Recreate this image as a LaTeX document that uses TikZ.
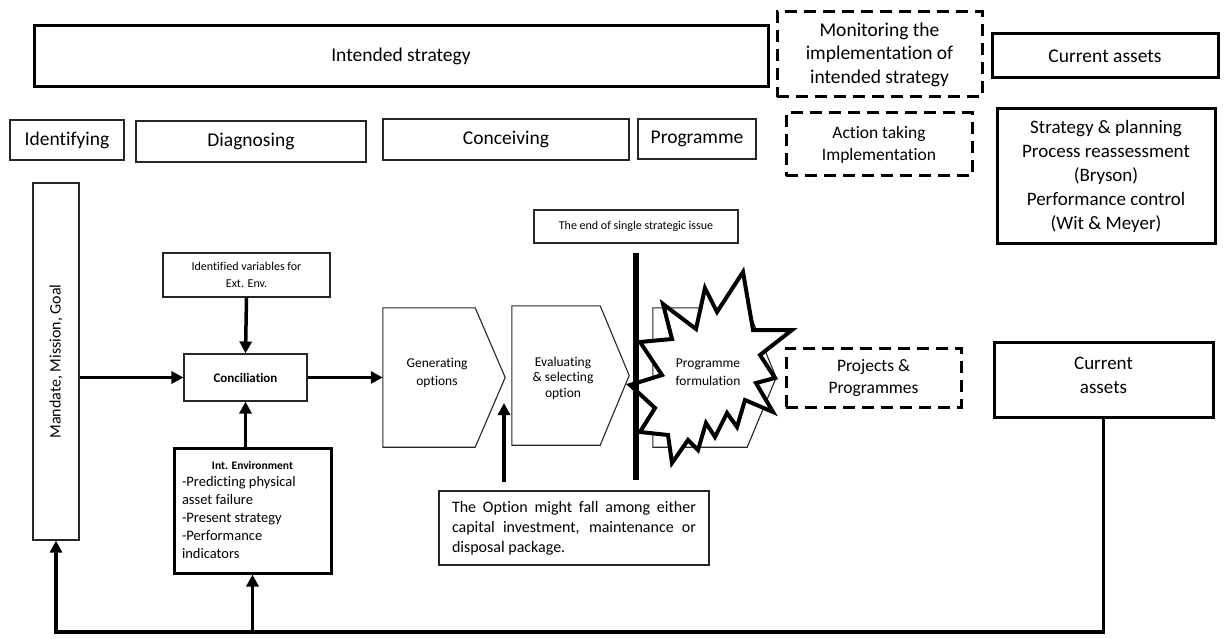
\documentclass[tikz,border=0pt]{standalone}
\usepackage{fontspec}
\setmainfont{Carlito}[Ligatures=NoCommon]
\usetikzlibrary{arrows.meta,calc}

\begin{document}
\begin{tikzpicture}[x=1pt,y=-1pt,
  thinbox/.style={draw=black!85, line width=1.1pt, fill=white, inner sep=0pt, align=center},
  thickbox/.style={draw=black, line width=3pt, inner sep=0pt, align=center},
  dashbox/.style={draw=black, line width=3pt, dash pattern=on 12pt off 7pt, inner sep=0pt, align=center},
  arr/.style={line width=3.5pt, line join=miter, -{Triangle[length=12pt,width=12pt]}},
  chev/.style={draw=black!85, line width=1.1pt, fill=white, line join=miter},
  big/.style={font=\fontsize{19.5}{23.5}\selectfont},
  mid/.style={font=\fontsize{17.5}{22}\selectfont},
  small/.style={font=\fontsize{13.5}{18}\selectfont},
  tiny/.style={font=\fontsize{12}{17}\selectfont}
]
\useasboundingbox (0,0) rectangle (1224,639);

% ---- top row ----
\node[thickbox, big, minimum width=734, minimum height=61] (intended) at (401,56.5) {Intended strategy};
\node[dashbox, big, minimum width=205, minimum height=85] (monitor) at (879.5,54.5)
  {Monitoring the\\implementation of\\intended strategy};
\node[thickbox, big, minimum width=226, minimum height=44] (assetsA) at (1105,56) {Current assets};

% ---- phase labels ----
\node[thinbox, big, minimum width=114, minimum height=40] (identify) at (67,140) {Identifying};
\node[thinbox, big, minimum width=230, minimum height=41] (diagnose) at (251,141.5) {Diagnosing};
\node[thinbox, big, minimum width=246, minimum height=41] (conceive) at (506,139.5) {Conceiving};
\node[thinbox, big, minimum width=118, minimum height=40] (programme) at (697,139) {Programme};
\node[dashbox, mid, minimum width=186, minimum height=63] (action) at (879,144.5)
  {Action taking\\Implementation};
\node[thickbox, font=\fontsize{19}{24}\selectfont, minimum width=218, minimum height=135] (planning) at (1106,176.5)
  {Strategy \& planning\\Process reassessment\\(Bryson)\\Performance control\\(Wit \& Meyer)};

% ---- left column ----
\node[thinbox, font=\fontsize{16}{19}\selectfont, minimum width=46, minimum height=357] (mandate) at (56,361.5)
  {\rotatebox{90}{Mandate, Mission, Goal}};
\node[thinbox, tiny, minimum width=167, minimum height=44] (extenv) at (246.5,275)
  {Identified variables for\\Ext. Env.};
\node[thinbox, font=\fontsize{13}{16}\selectfont\bfseries, minimum width=123, minimum height=47] (concil) at (245.5,377.5)
  {Conciliation};
\node[thickbox, font=\fontsize{14.5}{18}\selectfont, minimum width=157, minimum height=125, align=left] (intenv) at (252.5,510.5)
  {\makebox[141pt]{\fontsize{11.5}{14}\selectfont\bfseries Int. Environment}\\[-1pt]
   -Predicting physical\\asset failure\\-Present strategy\\-Performance\\indicators};

% ---- option chevrons ----
\node[minimum width=92, minimum height=139, inner sep=0pt] (gen) at (429,377.5) {};
\draw[chev] (gen.north west) -- (gen.north east) -- ($(gen.east)+(30,0)$) -- (gen.south east) -- (gen.south west) -- cycle;
\node[small, align=center] (gentxt) at (437,373) {Generating\\options};

\node[minimum width=88, minimum height=139, inner sep=0pt] (eval) at (556,375.5) {};
\draw[chev] (eval.north west) -- (eval.north east) -- ($(eval.east)+(29,0)$) -- (eval.south east) -- (eval.south west) -- cycle;
\node[font=\fontsize{13.5}{15.5}\selectfont, align=center] (evaltxt) at (563,378) {Evaluating\\\& selecting\\option};

\node[minimum width=94, minimum height=139, inner sep=0pt] (pform) at (700,377.5) {};
\draw[chev] (pform.north west) -- (pform.north east) -- ($(pform.east)+(29,0)$) -- (pform.south east) -- (pform.south west) -- cycle;

% burst over the programme formulation step
\draw[line width=4pt, fill=white, line join=miter]
  (640,342) -- (672,339) -- (663,304) -- (696,329) -- (705,288) -- (717,312) -- (743,272)
  -- (753,330) -- (792,330) -- (760,355) -- (775,378) -- (756,383) -- (773,412) -- (745,400)
  -- (737,427) -- (727,413) -- (715,437) -- (706,423) -- (698,450) -- (688,440) -- (672,463)
  -- (668,435) -- (640,432) -- (655,408) -- (630,385) -- (662,375) -- cycle;
\node[small, align=center] (pftxt) at (708,372) {Programme\\formulation};

% end of a single strategic issue
\node[thinbox, tiny, minimum width=204, minimum height=33] (endbox) at (636,226.5) {The end of single strategic issue};
\coordinate (barTop) at (636,253);
\coordinate (barBot) at (636,480);
\draw[line width=6pt] (barTop) -- (barBot);

% ---- right part ----
\node[dashbox, mid, minimum width=175, minimum height=59] (projects) at (873.5,377.5)
  {Projects \&\\Programmes};
\node[thickbox, minimum width=219, minimum height=75] (assetsB) at (1103.5,379.5) {};
\node[font=\fontsize{19}{24}\selectfont, align=center] (assetsBtxt) at (1103.5,375) {Current\\assets};

% ---- option note ----
\node[thinbox, font=\fontsize{16}{20}\selectfont, text width=244, align=justify, inner xsep=13pt,
      minimum height=74] (option) at (574,528)
  {The Option might fall among either capital investment, maintenance or disposal package.};

% ---- connectors ----
\draw[arr] (mandate.east |- concil.west) -- (concil.west);
\draw[arr] (extenv.south) -- (concil.north);
\draw[arr] (concil.south |- intenv.north) -- (concil.south);
\draw[arr] (concil.east) -- (gen.west);

\coordinate (optBase) at (504,482);
\coordinate (optTip) at (504,403);
\draw[arr] (optBase) -- (optTip);

\coordinate (loopY) at (0,632);
\draw[arr] (assetsB.south) -- (assetsB.south |- loopY) -| (mandate.south);
\draw[arr] (intenv.south |- loopY) -- (intenv.south);

\end{tikzpicture}
\end{document}
